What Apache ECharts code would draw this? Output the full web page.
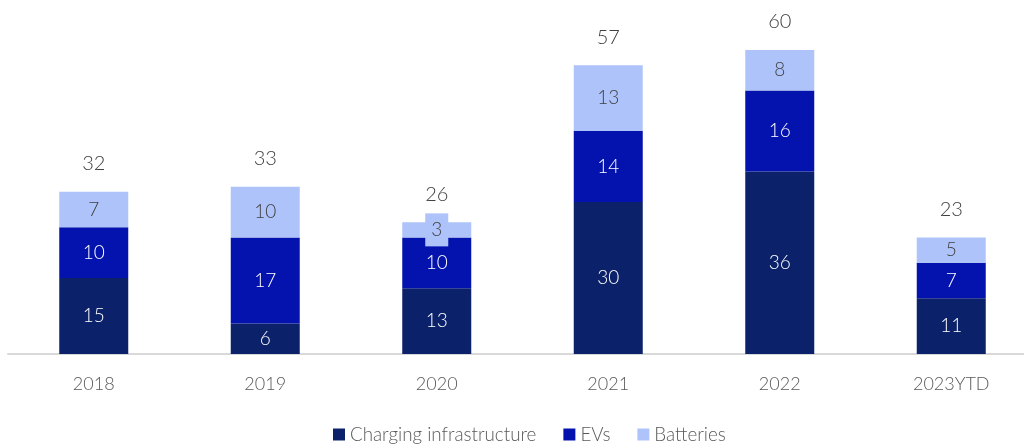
<!DOCTYPE html>
<html>
<head>
<meta charset="utf-8">
<script src="https://cdn.jsdelivr.net/npm/echarts@6/dist/echarts.min.js"></script>
<style>
  html, body { margin: 0; padding: 0; background: #fff; overflow: hidden; }
  #chart { width: 1037px; height: 444px; }
</style>
</head>
<body>
<div id="chart"></div>
<script>
const years = ['2018', '2019', '2020', '2021', '2022', '2023YTD']
const charging = [15, 6, 13, 30, 36, 11]
const evs = [10, 17, 10, 14, 16, 7]
const batteries = [7, 10, 3, 13, 8, 5]
const totals = [32, 33, 26, 57, 60, 23]

const font = 'Lato, "Noto Sans", sans-serif'
const inner = (color) => ({
  show: true,
  color,
  fontFamily: font,
  fontWeight: 300,
  fontSize: 19,
  formatter: (p) => p.value,
})

const chart = echarts.init(document.getElementById('chart'))
chart.setOption({
  animation: false,
  grid: { left: 8, right: 0, top: 50, bottom: 90 },
  legend: {
    data: ['Charging infrastructure', 'EVs', 'Batteries'],
    bottom: -5,
    left: 328,
    itemWidth: 12,
    itemHeight: 12,
    itemGap: 27,
    icon: 'rect',
    textStyle: { color: '#595959', fontFamily: font, fontWeight: 300, fontSize: 18.8 },
  },
  xAxis: {
    type: 'category',
    data: years,
    axisLine: { lineStyle: { color: '#d9d9d9', width: 2 } },
    axisTick: { show: false },
    axisLabel: { color: '#595959', fontFamily: font, fontWeight: 300, fontSize: 18, margin: 21 },
  },
  yAxis: { type: 'value', min: 0, max: 60, show: false },
  series: [
    {
      name: 'Charging infrastructure', type: 'bar', stack: 'a', barWidth: 69,
      itemStyle: { color: '#0b226b' }, label: inner('#fff'), data: charging,
    },
    {
      name: 'EVs', type: 'bar', stack: 'a',
      itemStyle: { color: '#0413ad' }, label: inner('#fff'), data: evs,
    },
    {
      name: 'Batteries', type: 'bar', stack: 'a',
      itemStyle: { color: '#adc3fa' }, label: inner('#404040'),
      data: batteries.map((v, i) => v < 5
        ? { value: v, label: { backgroundColor: '#adc3fa', padding: [7, 6, 7, 6] } }
        : v),
    },
    {
      name: 'Total', type: 'bar', stack: 'a',
      itemStyle: { color: 'transparent' },
      label: {
        show: true, position: 'top', distance: 18, color: '#404040',
        fontFamily: font, fontWeight: 300, fontSize: 20,
        formatter: (p) => totals[p.dataIndex],
      },
      data: totals.map(() => 0),
    },
  ],
})
</script>
</body>
</html>
